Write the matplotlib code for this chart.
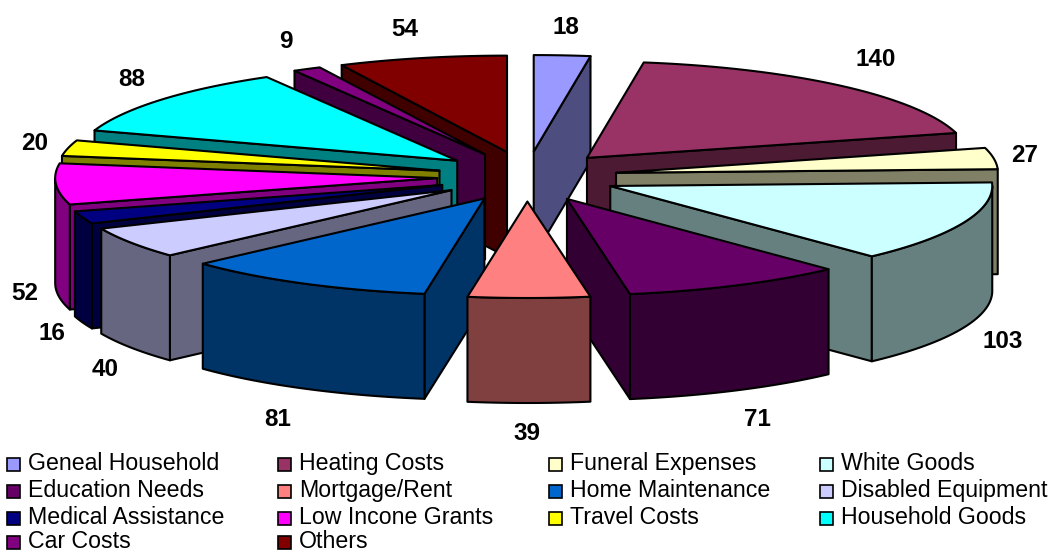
import numpy as np
import matplotlib
matplotlib.use("Agg")
import matplotlib.pyplot as plt
from matplotlib.patches import Polygon, Rectangle

plt.rcParams['font.family'] = ['Liberation Sans', 'DejaVu Sans']

categories = ["Geneal Household", "Heating Costs", "Funeral Expenses", "White Goods",
              "Education Needs", "Mortgage/Rent", "Home Maintenance", "Disabled Equipment",
              "Medical Assistance", "Low Incone Grants", "Travel Costs", "Household Goods",
              "Car Costs", "Others"]
values = [18, 140, 27, 103, 71, 39, 81, 40, 16, 52, 20, 88, 9, 54]
colors = ["#9999FF", "#993366", "#FFFFCC", "#CCFFFF", "#660066", "#FF8080", "#0066CC",
          "#CCCCFF", "#000080", "#FF00FF", "#FFFF00", "#00FFFF", "#800080", "#800000"]

# pie geometry, in pixels
cx, cy = 527, 176.5
rx, ry = 382, 96.5
ex, ey = 90, 25
depth = 105

label_xy = [(566, 28), (876, 59), (1025, 155), (1003, 341), (757, 420), (527, 434),
            (278, 420), (105, 370), (52, 334), (25, 294), (35, 144), (132, 80),
            (286, 42), (405, 29)]

fig = plt.figure(figsize=(10.56, 5.52), dpi=100)
ax = fig.add_axes([0, 0, 1, 1])
ax.set_xlim(0, 1056)
ax.set_ylim(552, 0)
ax.axis('off')


def darker(c):
    rgb = np.array(matplotlib.colors.to_rgb(c))
    return tuple(rgb * 0.5)


def poly(pts, color):
    ax.add_patch(Polygon(pts, closed=True, facecolor=color, edgecolor='black',
                         linewidth=1.5, joinstyle='round'))


def rim(ax0, ay0, t0, t1):
    t = np.linspace(t0, t1, max(int((t1 - t0) / 1.0), 2))
    r = np.radians(t)
    return np.column_stack([ax0 + rx * np.sin(r), ay0 - ry * np.cos(r)])


def wall(ax0, ay0, t, color):
    p = rim(ax0, ay0, t, t + 1e-6)[0]
    apex = (ax0, ay0)
    poly([apex, p, (p[0], p[1] + depth), (ax0, ay0 + depth)], color)


ends = np.cumsum(values) / sum(values) * 360
starts = np.concatenate([[0], ends[:-1]])
mids = (starts + ends) / 2

# back slices first
for i in np.argsort(-np.cos(np.radians(mids))):
    t0, t1, tm = starts[i], ends[i], mids[i]
    r = np.radians(tm)
    ax0 = cx + ex * np.sin(r)
    ay0 = cy - ey * np.cos(r)
    side = darker(colors[i])

    if np.sin(np.radians(t0)) < -1e-6:
        wall(ax0, ay0, t0, side)
    if np.sin(np.radians(t1)) > 1e-6:
        wall(ax0, ay0, t1, side)

    f0, f1 = max(t0, 90), min(t1, 270)
    if f1 > f0:
        arc = rim(ax0, ay0, f0, f1)
        poly(np.vstack([arc, (arc + [0, depth])[::-1]]), side)

    poly(np.vstack([[(ax0, ay0)], rim(ax0, ay0, t0, t1)]), colors[i])

for v, (x, y) in zip(values, label_xy):
    ax.text(x, y, str(v), ha='center', va='center', fontsize=17.5, fontweight='bold', color='black')

# legend, four columns
col_x = [7, 278, 549, 820]
row_y = [464, 491, 518, 542]
for i, (name, c) in enumerate(zip(categories, colors)):
    x = col_x[i % 4]
    y = row_y[i // 4]
    ax.add_patch(Rectangle((x, y - 6), 13, 13, facecolor=c, edgecolor='black', linewidth=1.2))
    ax.text(x + 21, y + 6, name, ha='left', va='baseline', fontsize=16.7, color='black')

fig.savefig("out.png", dpi=100)
